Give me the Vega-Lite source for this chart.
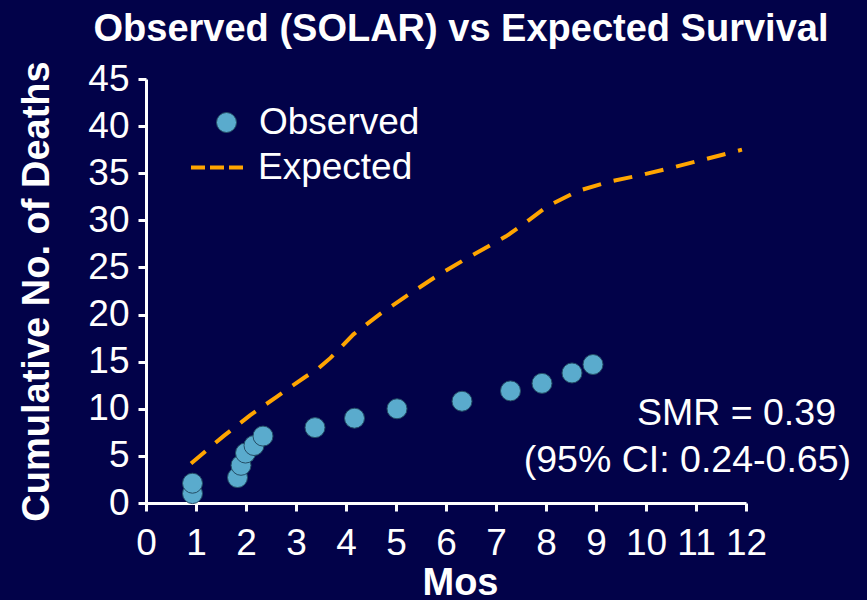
{
  "$schema": "https://vega.github.io/schema/vega-lite/v6.json",
  "width": 600,
  "height": 424,
  "autosize": {"type": "none"},
  "padding": {"left": 146, "top": 79, "right": 121, "bottom": 97},
  "background": "#020249",
  "config": {
    "view": {"stroke": null},
    "font": "Liberation Sans",
    "axis": {
      "domainColor": "white", "domainWidth": 3, "tickColor": "white", "tickWidth": 3, "tickSize": 8,
      "labelColor": "white", "labelFontSize": 37, "labelFont": "Liberation Sans",
      "titleColor": "white", "titleFontSize": 38, "titleFont": "Liberation Sans", "titleFontWeight": "bold",
      "grid": false, "labelFlush": false, "labelOverlap": false
    }
  },
  "title": {
    "text": "Observed (SOLAR) vs Expected Survival",
    "font": "Liberation Sans", "fontSize": 38, "fontWeight": "bold", "color": "white",
    "anchor": "middle", "baseline": "alphabetic", "offset": -19, "dx": 15
  },
  "datasets": {
    "observed": [
      {"month": 0.93, "deaths": 1.0, "series": "Observed"},
      {"month": 0.93, "deaths": 2.1, "series": "Observed"},
      {"month": 1.83, "deaths": 2.7, "series": "Observed"},
      {"month": 1.9, "deaths": 4.0, "series": "Observed"},
      {"month": 1.99, "deaths": 5.3, "series": "Observed"},
      {"month": 2.16, "deaths": 6.1, "series": "Observed"},
      {"month": 2.34, "deaths": 7.1, "series": "Observed"},
      {"month": 3.38, "deaths": 8.0, "series": "Observed"},
      {"month": 4.17, "deaths": 9.0, "series": "Observed"},
      {"month": 5.02, "deaths": 10.0, "series": "Observed"},
      {"month": 6.32, "deaths": 10.8, "series": "Observed"},
      {"month": 7.29, "deaths": 11.9, "series": "Observed"},
      {"month": 7.92, "deaths": 12.7, "series": "Observed"},
      {"month": 8.52, "deaths": 13.8, "series": "Observed"},
      {"month": 8.94, "deaths": 14.7, "series": "Observed"}
    ],
    "expected": [
      {"month": 0.9, "deaths": 4.2, "series": "Expected"},
      {"month": 1.55, "deaths": 7.1, "series": "Expected"},
      {"month": 2.08, "deaths": 9.3, "series": "Expected"},
      {"month": 2.62, "deaths": 11.3, "series": "Expected"},
      {"month": 3.19, "deaths": 13.4, "series": "Expected"},
      {"month": 3.45, "deaths": 14.3, "series": "Expected"},
      {"month": 3.69, "deaths": 15.4, "series": "Expected"},
      {"month": 4.15, "deaths": 17.9, "series": "Expected"},
      {"month": 4.69, "deaths": 20.1, "series": "Expected"},
      {"month": 5.22, "deaths": 22.0, "series": "Expected"},
      {"month": 5.79, "deaths": 24.0, "series": "Expected"},
      {"month": 6.36, "deaths": 25.8, "series": "Expected"},
      {"month": 6.93, "deaths": 27.5, "series": "Expected"},
      {"month": 7.2, "deaths": 28.3, "series": "Expected"},
      {"month": 7.5, "deaths": 29.4, "series": "Expected"},
      {"month": 8.03, "deaths": 31.5, "series": "Expected"},
      {"month": 8.63, "deaths": 33.1, "series": "Expected"},
      {"month": 9.26, "deaths": 34.1, "series": "Expected"},
      {"month": 9.9, "deaths": 34.8, "series": "Expected"},
      {"month": 10.53, "deaths": 35.6, "series": "Expected"},
      {"month": 11.19, "deaths": 36.5, "series": "Expected"},
      {"month": 11.92, "deaths": 37.5, "series": "Expected"}
    ]
  },
  "layer": [
    {
      "data": {"name": "expected"},
      "mark": {"type": "line", "strokeWidth": 4, "strokeDash": [19, 13]},
      "encoding": {
        "x": {"field": "month", "type": "quantitative",
              "scale": {"domain": [0, 12], "nice": false, "zero": false},
              "axis": {"values": [0,1,2,3,4,5,6,7,8,9,10,11,12], "title": "Mos", "labelPadding": 14, "titlePadding": 3, "titleX": 314}},
        "y": {"field": "deaths", "type": "quantitative",
              "scale": {"domain": [0, 45], "nice": false},
              "axis": {"values": [0,5,10,15,20,25,30,35,40,45], "title": "Cumulative No. of Deaths", "labelPadding": 9, "titlePadding": 31}},
        "stroke": {"field": "series", "type": "nominal",
                   "scale": {"domain": ["Expected"], "range": ["#FFA500"]},
                   "legend": {"orient": "none", "legendX": 43, "legendY": 58, "title": null, "padding": 0,
                              "labelFontSize": 37, "labelColor": "white", "labelFont": "Liberation Sans", "labelOffset": 8, "labelLimit": 400,
                              "symbolType": "stroke", "symbolSize": 3249, "symbolStrokeWidth": 4, "symbolDash": [14, 5]}}
      }
    },
    {
      "data": {"name": "observed"},
      "mark": {"type": "point", "filled": true, "size": 400, "stroke": "#254e66", "strokeWidth": 1, "opacity": 1},
      "encoding": {
        "x": {"field": "month", "type": "quantitative"},
        "y": {"field": "deaths", "type": "quantitative"},
        "fill": {"field": "series", "type": "nominal",
                 "scale": {"domain": ["Observed"], "range": ["#5aabcd"]},
                 "legend": {"orient": "none", "legendX": 62, "legendY": 25, "title": null, "padding": 0,
                            "labelFontSize": 37, "labelColor": "white", "labelFont": "Liberation Sans", "labelOffset": 14, "labelLimit": 400,
                            "symbolType": "circle", "symbolSize": 400, "symbolStrokeColor": "#254e66", "symbolStrokeWidth": 1, "symbolOpacity": 1}}
      }
    },
    {
      "data": {"values": [{}]},
      "mark": {"type": "text", "align": "right", "baseline": "alphabetic", "fontSize": 37.5, "color": "white", "font": "Liberation Sans"},
      "encoding": {
        "x": {"datum": 13.8, "type": "quantitative"},
        "y": {"datum": 8.28, "type": "quantitative"},
        "text": {"value": "SMR = 0.39"}
      }
    },
    {
      "data": {"values": [{}]},
      "mark": {"type": "text", "align": "right", "baseline": "alphabetic", "fontSize": 37.5, "color": "white", "font": "Liberation Sans"},
      "encoding": {
        "x": {"datum": 14.1, "type": "quantitative"},
        "y": {"datum": 3.32, "type": "quantitative"},
        "text": {"value": "(95% CI: 0.24-0.65)"}
      }
    }
  ]
}
